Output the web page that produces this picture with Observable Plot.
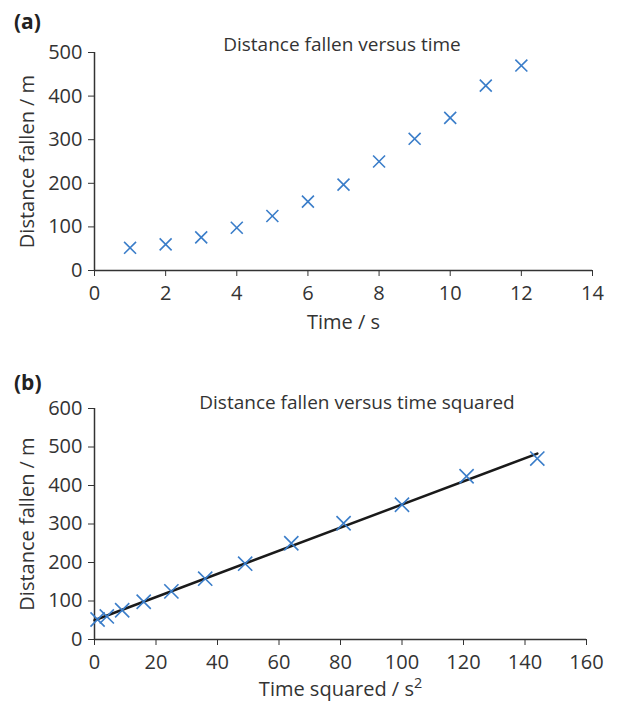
<!DOCTYPE html>
<html>
<head>
<meta charset="utf-8">
<script src="https://cdn.jsdelivr.net/npm/d3@7"></script>
<script src="https://cdn.jsdelivr.net/npm/@observablehq/plot@0.6"></script>
<style>
  html, body { margin: 0; padding: 0; background: #fff; }
  #wrap { position: relative; width: 617px; height: 701px; font-family: "Open Sans", sans-serif; color: #333; }
  .panel { position: absolute; left: 0; }
  .tag { position: absolute; font-weight: bold; font-size: 21px; line-height: 1; color: #222; }
  .ttl { position: absolute; font-size: 19px; line-height: 1; color: #333; white-space: nowrap; transform: translateX(-50%); }
  #wrap svg g[aria-label$="tick label"] { font-size: 20px; }
  #wrap svg g[aria-label="x-axis label"], #wrap svg g[aria-label="y-axis label"] { font-size: 20px; }
</style>
</head>
<body>
<div id="wrap">
  <div class="panel" id="pa" style="top:0"></div>
  <div class="panel" id="pb" style="top:350px"></div>
  <div class="tag" style="left:14px; top:11px">(a)</div>
  <div class="ttl" style="left:342px; top:35px">Distance fallen versus time</div>
  <div class="tag" style="left:14px; top:372px">(b)</div>
  <div class="ttl" style="left:357px; top:393px">Distance fallen versus time squared</div>
</div>
<script>
// Data
const times = [1, 2, 3, 4, 5, 6, 7, 8, 9, 10, 11, 12];
const timeSquared = [1, 4, 9, 16, 25, 36, 49, 64, 81, 100, 121, 144];
const distances = [52, 60, 76, 98, 125, 158, 197, 250, 302, 350, 424, 470];
const fitX = [0, 144];
const fitY = [50, 483];
const xTicksA = [0, 2, 4, 6, 8, 10, 12, 14];
const yTicksA = [0, 100, 200, 300, 400, 500];
const xTicksB = [0, 20, 40, 60, 80, 100, 120, 140, 160];
const yTicksB = [0, 100, 200, 300, 400, 500, 600];

const ptsA = times.map((t, i) => ({x: t, y: distances[i]}));
const ptsB = timeSquared.map((t, i) => ({x: t, y: distances[i]}));
const fit = fitX.map((x, i) => ({x, y: fitY[i]}));

const blue = "#3a7dc9";
const ink = "#333";

function axes(xTicks, yTicks, xLabel, xLabelOffset) {
  return [
    Plot.axisX({ticks: xTicks, tickSize: 6, tickPadding: 9, stroke: ink, color: ink, label: xLabel, labelAnchor: "center", labelArrow: "none", labelOffset: xLabelOffset}),
    Plot.axisY({ticks: yTicks, tickSize: 6, tickPadding: 6, stroke: ink, color: ink, label: "Distance fallen / m", labelAnchor: "center", labelArrow: "none", labelOffset: 75}),
    Plot.ruleY([0], {stroke: ink, strokeWidth: 1.5}),
    Plot.ruleX([0], {stroke: ink, strokeWidth: 1.5})
  ];
}

const style = {fontFamily: "Open Sans, sans-serif", color: ink, background: "transparent", overflow: "visible"};

const chartA = Plot.plot({
  width: 617, height: 345,
  marginLeft: 94, marginRight: 25, marginTop: 52, marginBottom: 75,
  style,
  x: {domain: [0, 14]},
  y: {domain: [0, 500]},
  marks: [
    ...axes(xTicksA, yTicksA, "Time / s", 58),
    Plot.dot(ptsA, {x: "x", y: "y", symbol: "times", r: 5.5, stroke: blue, strokeWidth: 1.6})
  ]
});
document.getElementById("pa").appendChild(chartA);

const chartB = Plot.plot({
  width: 617, height: 351,
  marginLeft: 94, marginRight: 31, marginTop: 58, marginBottom: 62,
  style,
  x: {domain: [0, 160]},
  y: {domain: [0, 600]},
  marks: [
    ...axes(xTicksB, yTicksB, "Time squared / s", 56),
    Plot.line(fit, {x: "x", y: "y", stroke: "#1a1a1a", strokeWidth: 2.5}),
    Plot.dot(ptsB, {x: "x", y: "y", symbol: "times", r: 6.5, stroke: blue, strokeWidth: 1.6})
  ]
});
// add a real superscript "2" to the x-axis label of chart (b)
d3.select(chartB).select('g[aria-label="x-axis label"] text')
  .append("tspan").attr("dy", "-0.5em").attr("font-size", "0.72em").text("2");
document.getElementById("pb").appendChild(chartB);
</script>
</body>
</html>
